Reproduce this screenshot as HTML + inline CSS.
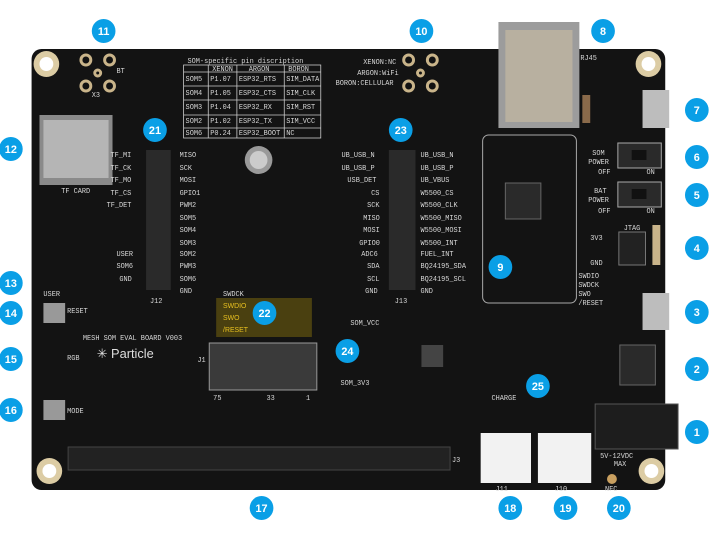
<!DOCTYPE html>
<html><head><meta charset="utf-8"><style>
body{margin:0;background:#fff}
svg{display:block}
text{font-family:"Liberation Sans",sans-serif}
.l{fill:#d8d8d8;font-size:7px;font-family:"Liberation Mono",monospace}
.n{fill:#fff;font-size:11px;font-weight:bold;text-anchor:middle}
</style></head><body>
<svg width="720" height="540" viewBox="0 0 720 540">
<g transform="scale(0.987,1)">
<rect x="32" y="49" width="642" height="441" rx="10" fill="#131313"/>
<!-- mounting holes -->
<g fill="#dccca4">
<circle cx="47" cy="64" r="13"/><circle cx="657" cy="64" r="13"/>
<circle cx="50" cy="471" r="13"/><circle cx="660" cy="471" r="13"/>
</g>
<g fill="#fff">
<circle cx="47" cy="64" r="7"/><circle cx="657" cy="64" r="7"/>
<circle cx="50" cy="471" r="7"/><circle cx="660" cy="471" r="7"/>
</g>
<!-- antenna connectors -->
<g fill="#111" stroke="#c9b48a" stroke-width="3">
<circle cx="87" cy="60" r="5"/><circle cx="111" cy="60" r="5"/><circle cx="87" cy="86" r="5"/><circle cx="111" cy="86" r="5"/><circle cx="99" cy="73" r="3"/>
<circle cx="414" cy="60" r="5"/><circle cx="438" cy="60" r="5"/><circle cx="414" cy="86" r="5"/><circle cx="438" cy="86" r="5"/><circle cx="426" cy="73" r="3"/>
</g>
<text class="l" x="118" y="73">BT</text><text class="l" x="93" y="97">X3</text>
<text class="l" x="368" y="64">XENON:NC</text><text class="l" x="362" y="75">ARGON:WiFi</text><text class="l" x="340" y="85">BORON:CELLULAR</text>
<!-- table -->
<text class="l" x="190" y="63">SOM-specific pin discription</text>
<g stroke="#ccc" stroke-width="0.8" fill="none">
<rect x="186" y="65" width="139" height="73"/>
<line x1="186" y1="72" x2="325" y2="72"/><line x1="186" y1="86" x2="325" y2="86"/><line x1="186" y1="100" x2="325" y2="100"/><line x1="186" y1="115" x2="325" y2="115"/><line x1="186" y1="128" x2="325" y2="128"/>
<line x1="211" y1="65" x2="211" y2="138"/><line x1="240" y1="65" x2="240" y2="138"/><line x1="288" y1="65" x2="288" y2="138"/>
</g>
<text class="l" x="215" y="71">XENON</text><text class="l" x="252" y="71">ARGON</text><text class="l" x="292" y="71">BORON</text>
<text class="l" x="188" y="81">SOM5</text><text class="l" x="213" y="81">P1.07</text><text class="l" x="242" y="81">ESP32_RTS</text><text class="l" x="290" y="81">SIM_DATA</text>
<text class="l" x="188" y="95">SOM4</text><text class="l" x="213" y="95">P1.05</text><text class="l" x="242" y="95">ESP32_CTS</text><text class="l" x="290" y="95">SIM_CLK</text>
<text class="l" x="188" y="109">SOM3</text><text class="l" x="213" y="109">P1.04</text><text class="l" x="242" y="109">ESP32_RX</text><text class="l" x="290" y="109">SIM_RST</text>
<text class="l" x="188" y="123">SOM2</text><text class="l" x="213" y="123">P1.02</text><text class="l" x="242" y="123">ESP32_TX</text><text class="l" x="290" y="123">SIM_VCC</text>
<text class="l" x="188" y="135">SOM6</text><text class="l" x="213" y="135">P0.24</text><text class="l" x="242" y="135">ESP32_BOOT</text><text class="l" x="290" y="135">NC</text>
<!-- screw -->
<circle cx="262" cy="160" r="14" fill="#9a9a9a"/><circle cx="262" cy="160" r="9" fill="#ccc"/>
<!-- TF card -->
<rect x="40" y="115" width="74" height="70" fill="#8a8a8a"/><rect x="44" y="120" width="66" height="58" fill="#b5b5b5"/>
<text class="l" x="62" y="193">TF CARD</text>
<!-- ethernet -->
<rect x="505" y="22" width="82" height="106" fill="#9c9c9c"/><rect x="512" y="30" width="68" height="92" fill="#b8b0a0"/>
<text class="l" x="588" y="60">RJ45</text>
<rect x="590" y="95" width="8" height="28" fill="#8a6a4a"/>
<!-- USB -->
<rect x="651" y="90" width="27" height="38" fill="#bdbdbd"/><rect x="651" y="293" width="27" height="37" fill="#bdbdbd"/>
<!-- switches -->
<rect x="626" y="143" width="44" height="25" fill="#2a2a2a" stroke="#aaa"/><rect x="640" y="150" width="15" height="10" fill="#111"/>
<rect x="626" y="182" width="44" height="25" fill="#2a2a2a" stroke="#aaa"/><rect x="640" y="189" width="15" height="10" fill="#111"/>
<text class="l" x="600" y="155">SOM</text><text class="l" x="596" y="164">POWER</text><text class="l" x="606" y="174">OFF</text><text class="l" x="655" y="174">ON</text>
<text class="l" x="602" y="193">BAT</text><text class="l" x="596" y="202">POWER</text><text class="l" x="606" y="213">OFF</text><text class="l" x="655" y="213">ON</text>
<text class="l" x="598" y="240">3V3</text><text class="l" x="632" y="230">JTAG</text><text class="l" x="598" y="265">GND</text>
<rect x="627" y="232" width="27" height="33" fill="#222" stroke="#777"/>
<rect x="661" y="225" width="8" height="40" fill="#c9b48a"/>
<!-- PoE module -->
<rect x="489" y="135" width="95" height="168" rx="6" fill="none" stroke="#aaa"/>
<rect x="512" y="183" width="36" height="36" fill="#2a2a2a" stroke="#666"/>
<text class="l" x="586" y="278">SWDIO</text><text class="l" x="586" y="287">SWDCK</text><text class="l" x="586" y="296">SWO</text><text class="l" x="586" y="305">/RESET</text>
<!-- headers J12 J13 -->
<rect x="148" y="150" width="25" height="140" fill="#2a2a2a"/>
<rect x="394" y="150" width="27" height="140" fill="#2a2a2a"/>
<text x="112" y="157" class="l">TF_MI</text><text x="112" y="170" class="l">TF_CK</text><text x="112" y="182" class="l">TF_MO</text><text x="112" y="195" class="l">TF_CS</text><text x="108" y="207" class="l">TF_DET</text>
<text x="118" y="256" class="l">USER</text><text x="118" y="268" class="l">SOM6</text><text x="121" y="281" class="l">GND</text>
<text x="182" y="157" class="l">MISO</text><text x="182" y="170" class="l">SCK</text><text x="182" y="182" class="l">MOSI</text><text x="182" y="195" class="l">GPIO1</text><text x="182" y="207" class="l">PWM2</text><text x="182" y="220" class="l">SOM5</text><text x="182" y="232" class="l">SOM4</text><text x="182" y="245" class="l">SOM3</text><text x="182" y="256" class="l">SOM2</text><text x="182" y="268" class="l">PWM3</text><text x="182" y="281" class="l">SOM6</text><text x="182" y="293" class="l">GND</text>
<text x="346" y="157" class="l">UB_USB_N</text><text x="346" y="170" class="l">UB_USB_P</text><text x="352" y="182" class="l">USB_DET</text><text x="376" y="195" class="l">CS</text><text x="372" y="207" class="l">SCK</text><text x="368" y="220" class="l">MISO</text><text x="368" y="232" class="l">MOSI</text><text x="364" y="245" class="l">GPIO0</text><text x="366" y="256" class="l">ADC6</text><text x="372" y="268" class="l">SDA</text><text x="372" y="281" class="l">SCL</text><text x="370" y="293" class="l">GND</text>
<text x="426" y="157" class="l">UB_USB_N</text><text x="426" y="170" class="l">UB_USB_P</text><text x="426" y="182" class="l">UB_VBUS</text><text x="426" y="195" class="l">W5500_CS</text><text x="426" y="207" class="l">W5500_CLK</text><text x="426" y="220" class="l">W5500_MISO</text><text x="426" y="232" class="l">W5500_MOSI</text><text x="426" y="245" class="l">W5500_INT</text><text x="426" y="256" class="l">FUEL_INT</text><text x="426" y="268" class="l">BQ24195_SDA</text><text x="426" y="281" class="l">BQ24195_SCL</text><text x="426" y="293" class="l">GND</text>
<text class="l" x="152" y="303">J12</text><text class="l" x="400" y="303">J13</text>
<!-- 22 highlight & M.2 -->
<rect x="219" y="298" width="97" height="39" fill="#4a4010"/>
<text class="l" x="226" y="296">SWDCK</text><text x="226" y="308" font-size="7" fill="#e8c020" font-family="Liberation Mono">SWDIO</text><text x="226" y="320" font-size="7" fill="#e8c020" font-family="Liberation Mono">SWO</text><text x="226" y="332" font-size="7" fill="#e8c020" font-family="Liberation Mono">/RESET</text>
<rect x="212" y="343" width="109" height="47" fill="#3a3a3a" stroke="#999"/>
<text class="l" x="216" y="400">75</text><text class="l" x="270" y="400">33</text><text class="l" x="310" y="400">1</text><text class="l" x="200" y="362">J1</text>
<text class="l" x="84" y="340">MESH SOM EVAL BOARD V003</text>
<text x="98" y="358" fill="#ddd" font-size="13">✳ Particle</text>
<!-- buttons -->
<rect x="44" y="303" width="22" height="20" fill="#999"/><rect x="44" y="400" width="22" height="20" fill="#999"/>
<text class="l" x="68" y="313">RESET</text><text class="l" x="68" y="413">MODE</text><text class="l" x="68" y="360">RGB</text><text class="l" x="44" y="296">USER</text>
<text class="l" x="355" y="325">SOM_VCC</text><text class="l" x="345" y="385">SOM_3V3</text><text class="l" x="498" y="400">CHARGE</text>
<rect x="427" y="345" width="22" height="22" fill="#444"/>
<rect x="628" y="345" width="36" height="40" fill="#2a2a2a" stroke="#666"/>
<!-- J3 -->
<rect x="69" y="447" width="387" height="23" fill="#222" stroke="#444"/>
<text class="l" x="458" y="462">J3</text>
<!-- J11 J10 -->
<rect x="487" y="433" width="51" height="50" fill="#f2f2f2"/><rect x="545" y="433" width="54" height="50" fill="#f2f2f2"/>
<text class="l" x="502" y="491">J11</text><text class="l" x="562" y="491">J10</text>
<!-- power jack -->
<rect x="603" y="404" width="84" height="45" fill="#1d1d1d" stroke="#555"/>
<text class="l" x="608" y="458">5V-12VDC</text><text class="l" x="622" y="466">MAX</text>
<circle cx="620" cy="479" r="5" fill="#c9a060"/><text class="l" x="613" y="491">NFC</text>
<!-- callouts -->
<g fill="#0a9fe6">
<circle cx="105" cy="31" r="12"/><circle cx="427" cy="31" r="12"/><circle cx="611" cy="31" r="12"/>
<circle cx="11" cy="149" r="12"/><circle cx="157" cy="130" r="12"/><circle cx="406" cy="130" r="12"/>
<circle cx="706" cy="110" r="12"/><circle cx="706" cy="157" r="12"/><circle cx="706" cy="195" r="12"/><circle cx="706" cy="248" r="12"/><circle cx="706" cy="312" r="12"/><circle cx="706" cy="369" r="12"/><circle cx="706" cy="432" r="12"/>
<circle cx="11" cy="283" r="12"/><circle cx="11" cy="313" r="12"/><circle cx="11" cy="359" r="12"/><circle cx="11" cy="410" r="12"/>
<circle cx="507" cy="267" r="12"/><circle cx="268" cy="313" r="12"/><circle cx="352" cy="351" r="12"/><circle cx="545" cy="386" r="12"/>
<circle cx="265" cy="508" r="12"/><circle cx="517" cy="508" r="12"/><circle cx="573" cy="508" r="12"/><circle cx="627" cy="508" r="12"/>
</g>
<text class="n" x="105" y="35">11</text><text class="n" x="427" y="35">10</text><text class="n" x="611" y="35">8</text>
<text class="n" x="11" y="153">12</text><text class="n" x="157" y="134">21</text><text class="n" x="406" y="134">23</text>
<text class="n" x="706" y="114">7</text><text class="n" x="706" y="161">6</text><text class="n" x="706" y="199">5</text><text class="n" x="706" y="252">4</text><text class="n" x="706" y="316">3</text><text class="n" x="706" y="373">2</text><text class="n" x="706" y="436">1</text>
<text class="n" x="11" y="287">13</text><text class="n" x="11" y="317">14</text><text class="n" x="11" y="363">15</text><text class="n" x="11" y="414">16</text>
<text class="n" x="507" y="271">9</text><text class="n" x="268" y="317">22</text><text class="n" x="352" y="355">24</text><text class="n" x="545" y="390">25</text>
<text class="n" x="265" y="512">17</text><text class="n" x="517" y="512">18</text><text class="n" x="573" y="512">19</text><text class="n" x="627" y="512">20</text>
</g>
</svg>
</body></html>
